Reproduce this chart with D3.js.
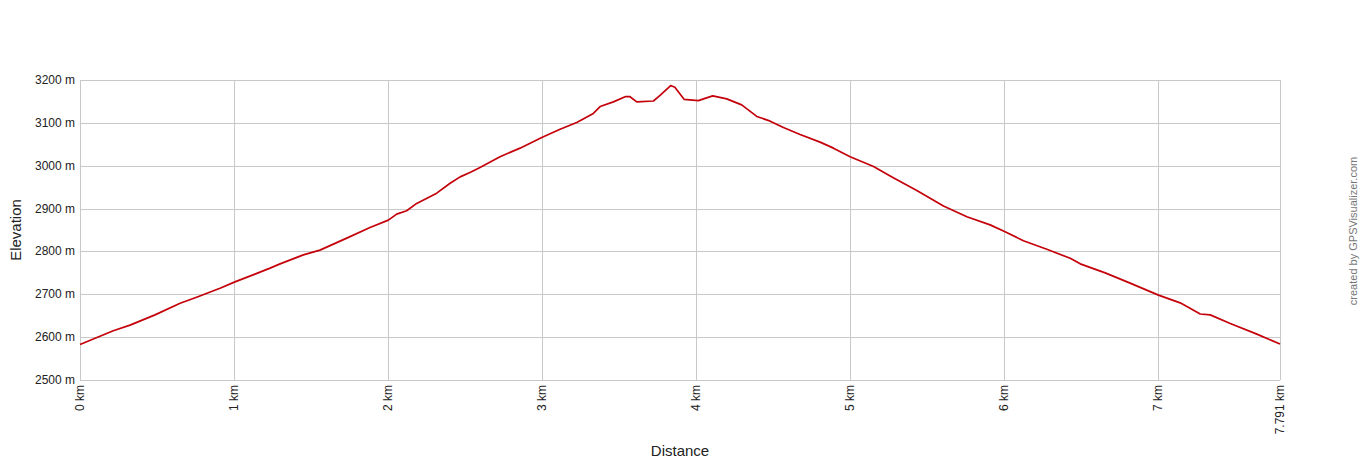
<!DOCTYPE html>
<html><head><meta charset="utf-8">
<script src="https://cdn.jsdelivr.net/npm/d3@7"></script>
<style>body{margin:0;background:#fff}svg{display:block;font-family:Arial,"Liberation Sans",sans-serif}</style>
</head><body><svg id="c" width="1360" height="460"></svg>
<script>
const distances = [0,0.216,0.325,0.487,0.65,0.757,0.909,1.006,1.136,1.234,1.299,1.45,1.558,1.732,1.883,2.002,2.056,2.121,2.186,2.316,2.403,2.468,2.532,2.597,2.727,2.857,2.998,3.117,3.225,3.333,3.377,3.463,3.539,3.571,3.615,3.723,3.766,3.835,3.862,3.922,4.015,4.048,4.108,4.199,4.296,4.394,4.481,4.567,4.675,4.805,4.892,5.0,5.152,5.26,5.325,5.433,5.606,5.758,5.909,6.006,6.125,6.277,6.429,6.494,6.656,6.818,7.002,7.143,7.273,7.338,7.468,7.641,7.791];
const elevations = [2583,2615,2628,2652,2679,2693,2714,2729,2747,2761,2771,2792,2803,2831,2856,2873,2887,2895,2912,2936,2959,2974,2984,2996,3021,3041,3066,3085,3101,3122,3138,3149,3161,3161,3149,3151,3164,3187,3183,3155,3152,3156,3163,3156,3142,3115,3104,3089,3073,3055,3041,3021,2998,2976,2963,2942,2906,2881,2862,2846,2825,2805,2784,2771,2750,2726,2698,2680,2654,2652,2632,2607,2584];
const yTicks = [2500,2600,2700,2800,2900,3000,3100,3200];
const xTicks = [0,1,2,3,4,5,6,7,7.791];
const xTickLabels = ["0 km","1 km","2 km","3 km","4 km","5 km","6 km","7 km","7.791 km"];

const svg = d3.select("#c");
const L=80,R=1280,T=80,B=380;
const x = d3.scaleLinear().domain([0,7.791]).range([L,R]);
const y = d3.scaleLinear().domain([2500,3200]).range([B,T]);
const grid = svg.append("g").attr("stroke","#c8c8c8").attr("stroke-width",1).attr("shape-rendering","crispEdges");
yTicks.forEach(v=>grid.append("line").attr("x1",L).attr("x2",R).attr("y1",Math.round(y(v))+0.5).attr("y2",Math.round(y(v))+0.5));
xTicks.forEach(v=>grid.append("line").attr("y1",T).attr("y2",B).attr("x1",Math.round(x(v))+0.5).attr("x2",Math.round(x(v))+0.5));

svg.append("g").selectAll("text").data(yTicks).join("text")
  .attr("x",L-5).attr("y",d=>y(d)+4).attr("text-anchor","end").attr("font-size",12).attr("fill","#222")
  .text(d=>d+" m");
svg.append("g").selectAll("text").data(xTicks).join("text")
  .attr("transform",(d)=>`translate(${x(d)+4},${B+5}) rotate(-90)`).attr("text-anchor","end")
  .attr("font-size",12).attr("fill","#222").text((d,i)=>xTickLabels[i]);

const pts = distances.map((d,i)=>[d,elevations[i]]);
svg.append("path").datum(pts).attr("fill","none").attr("stroke","#c4000a").attr("stroke-width",1.7)
  .attr("stroke-linejoin","round")
  .attr("d",d3.line().x(d=>x(d[0])).y(d=>y(d[1])));

svg.append("text").attr("transform","translate(21,230) rotate(-90)").attr("text-anchor","middle")
  .attr("font-size",15).attr("fill","#222").text("Elevation");
svg.append("text").attr("x",680).attr("y",456).attr("text-anchor","middle")
  .attr("font-size",15).attr("fill","#222").text("Distance");
svg.append("text").attr("transform","translate(1357,231) rotate(-90)").attr("text-anchor","middle")
  .attr("font-size",11).attr("fill","#777").text("created by GPSVisualizer.com");
</script></body></html>
